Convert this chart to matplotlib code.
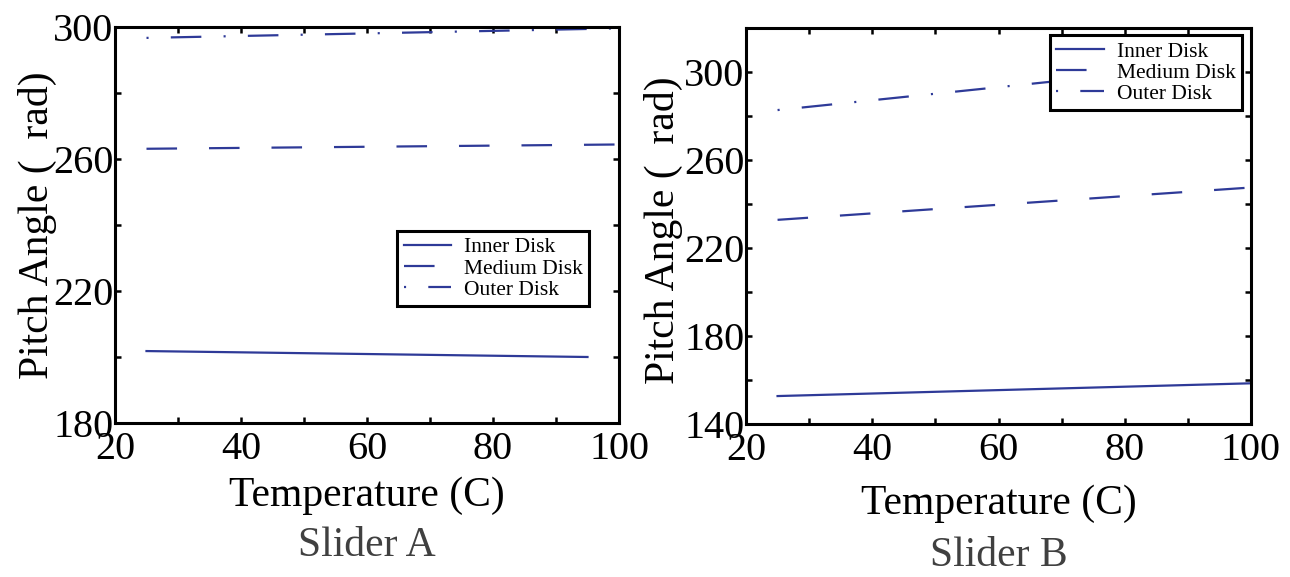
import numpy as np
import matplotlib
matplotlib.use("Agg")
import matplotlib.pyplot as plt

plt.rcParams["font.family"] = ["Liberation Serif", "DejaVu Serif"]
plt.rcParams["lines.scale_dashes"] = False

# Data
temp_a = [25, 95]
inner_a = [201.8, 200.0]
temp_a_long = [25, 100]
medium_a = [263.1, 264.4]
outer_a = [296.7, 299.6]

temp_b = [25, 100]
inner_b = [152.7, 158.5]
medium_b = [232.8, 247.5]
outer_b = [282.7, 305.0]

labels = ["Inner Disk", "Medium Disk", "Outer Disk"]
xticks = [20, 40, 60, 80, 100]
xticks_minor = [30, 50, 70, 90]
yticks_a = [180, 220, 260, 300]
yticks_a_minor = [200, 240, 280]
yticks_b = [140, 180, 220, 260, 300]
yticks_b_minor = [160, 200, 240, 280, 320]

color = "#2E3A98"
dash_medium = (0, (22, 23))
dash_outer = (0, (1.5, 16, 22, 16))

fig = plt.figure(figsize=(12.9, 5.77), dpi=100)
ax1 = fig.add_axes([115 / 1290, 154 / 577, 504 / 1290, 396 / 577])
ax2 = fig.add_axes([746 / 1290, 153 / 577, 505 / 1290, 396 / 577])

ax1.plot(temp_a, inner_a, color=color, lw=1.6, label=labels[0])
ax1.plot(temp_a_long, medium_a, color=color, lw=1.6, ls=dash_medium, label=labels[1])
ax1.plot(temp_a_long, outer_a, color=color, lw=1.6, ls=dash_outer, label=labels[2])
ax1.set_ylim(180, 300)
ax1.set_yticks(yticks_a)
ax1.set_yticks(yticks_a_minor, minor=True)

ax2.plot(temp_b, inner_b, color=color, lw=1.6, label=labels[0])
ax2.plot(temp_b, medium_b, color=color, lw=1.6, ls=dash_medium, label=labels[1])
ax2.plot(temp_b, outer_b, color=color, lw=1.6, ls=dash_outer, label=labels[2])
ax2.set_ylim(140, 320)
ax2.set_yticks(yticks_b)
ax2.set_yticks(yticks_b_minor, minor=True)

for ax in (ax1, ax2):
    ax.set_xlim(20, 100)
    ax.set_xticks(xticks)
    ax.set_xticks(xticks_minor, minor=True)
    for sp in ax.spines.values():
        sp.set_linewidth(2.2)
    ax.tick_params(which="both", direction="in", top=True, right=True,
                   length=4, width=1.8, labelsize=29)
    ax.tick_params(axis="y", which="both", pad=1)
    ax.tick_params(axis="x", which="both", pad=6)
    ax.set_xlabel("Temperature (C)", fontsize=30)
    ax.set_ylabel("Pitch Angle (  rad)", fontsize=30)

ax1.xaxis.set_label_coords(0.5, -0.135)
ax2.xaxis.set_label_coords(0.5, -0.152)
ax1.yaxis.set_label_coords(-0.115, 0.5)
ax2.yaxis.set_label_coords(-0.125, 0.49)

leg_kw = dict(fontsize=15.5, fancybox=False, edgecolor="black", framealpha=1,
              handlelength=2.2, handletextpad=0.6, labelspacing=0.05,
              borderpad=0.3, borderaxespad=0)
leg1 = ax1.legend(loc="upper left", bbox_to_anchor=(0.56, 0.485), **leg_kw)
leg2 = ax2.legend(loc="upper right", bbox_to_anchor=(0.982, 0.982), **leg_kw)
for leg in (leg1, leg2):
    leg.get_frame().set_linewidth(2.2)

fig.text((115 + 619) / 2 / 1290, 1 - 546 / 577, "Slider A", fontsize=30,
         color="#404040", ha="center", va="center")
fig.text((746 + 1251) / 2 / 1290, 1 - 556 / 577, "Slider B", fontsize=30,
         color="#404040", ha="center", va="center")

fig.savefig("out.png", dpi=100)
